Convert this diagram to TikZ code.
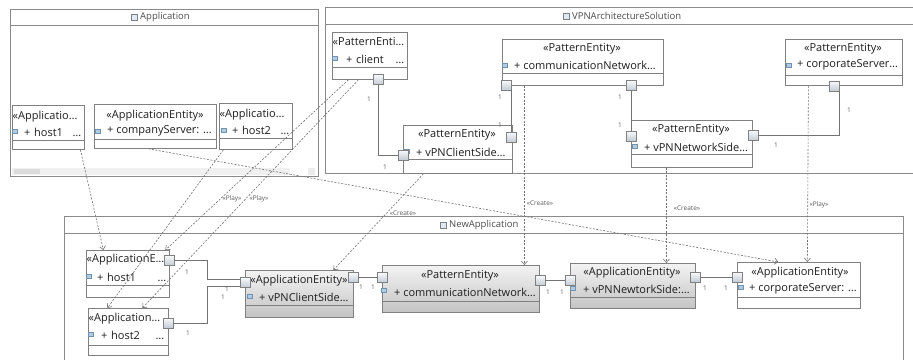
\documentclass[tikz,border=0pt]{standalone}
\usepackage{fontspec}
\setmainfont{Open Sans}
\usetikzlibrary{arrows.meta}
\definecolor{pkgline}{HTML}{8A8A8A}
\definecolor{clsline}{HTML}{808080}
\definecolor{depline}{HTML}{707070}
\definecolor{porttop}{HTML}{F8FAFC}
\definecolor{portbot}{HTML}{C3CBD4}
\definecolor{iconblue}{HTML}{8DB6DA}
\definecolor{greytop}{HTML}{F3F3F3}
\definecolor{greybot}{HTML}{C4C4C4}
\definecolor{txtcol}{HTML}{1E1E1E}
\definecolor{lblcol}{HTML}{5A5A5A}

\begin{document}
\begin{tikzpicture}[x=1pt, y=-1pt,
  pkg/.style={draw=pkgline, line width=0.9pt, anchor=north west, inner sep=0pt},
  cls/.style={draw=clsline, fill=white, line width=0.8pt, anchor=north west, inner sep=0pt},
  shaded cls/.style={cls, top color=greytop, bottom color=greybot},
  port/.style={draw=clsline, line width=0.6pt, top color=porttop, bottom color=portbot, minimum size=10pt, inner sep=0pt},
  icon/.style={draw=iconblue!80!black, fill=iconblue!70, minimum width=5pt, minimum height=3.5pt, inner sep=0pt},
  pkgicon/.style={draw=gray, fill=iconblue!30, minimum size=6pt, inner sep=0pt},
  clstext/.style={text=txtcol, font=\fontsize{11}{12}\selectfont, inner sep=0pt},
  titletext/.style={text=txtcol!80, font=\fontsize{9.5}{11}\selectfont, inner sep=0pt},
  multtext/.style={text=lblcol, font=\fontsize{6.5}{7}\selectfont, inner sep=0pt},
  deptext/.style={text=lblcol, font=\fontsize{6.5}{7}\selectfont, inner sep=0pt},
  assoc/.style={draw=clsline!90!black, line width=0.8pt},
  dep/.style={draw=depline, line width=0.6pt, dash pattern=on 2pt off 1.5pt, -{Straight Barb[length=3.5pt, width=6pt]}},
]
  \useasboundingbox (0,0) rectangle (913,359);

  \node[pkg, minimum width=308pt, minimum height=167pt] (app) at (10,9) {};
  \draw[pkg] (app.west |- 0,25) -- (app.east |- 0,25);
  \node[pkgicon] (appi) at (134,17) {};
  \node[titletext, anchor=west] (appt) at (140,17) {Application};
  \fill[gray!12] (12,168) rectangle (290,175);
  \fill[gray!28] (14,169) rectangle (40,174);
  \fill[gray!15] (308,168) rectangle (315,175);

  \node[pkg, minimum width=600pt, minimum height=166pt] (vpn) at (325,7) {};
  \draw[pkg] (vpn.west |- 0,24) -- (vpn.east |- 0,24);
  \node[pkgicon] (vpni) at (566,16) {};
  \node[titletext, anchor=west] (vpnt) at (572,16) {VPNArchitectureSolution};

  \node[pkg, minimum width=839pt, minimum height=160pt] (new) at (64,216) {};
  \draw[pkg] (new.west |- 0,233) -- (new.east |- 0,233);
  \node[pkgicon] (newi) at (443,225) {};
  \node[titletext, anchor=west] (newt) at (449,225) {NewApplication};

  \node[cls, minimum width=72pt, minimum height=44pt] (ah1) at (12,105) {};
  \draw[clsline] (ah1.west |- 0,140) -- (ah1.east |- 0,140);
  \node[clstext, anchor=west] (ah1s) at (12.5,117) {«Applicatio…};
  \node[icon] (ah1i) at (15,131) {};
  \node[clstext, anchor=west, text width=57pt] (ah1a) at (24,132) {+ host1\hfill…};

  \node[cls, minimum width=122pt, minimum height=44pt] (acs) at (94,104) {};
  \draw[clsline] (acs.west |- 0,139) -- (acs.east |- 0,139);
  \node[clstext] (acss) at (155,116) {«ApplicationEntity»};
  \node[icon] (acsi) at (98,131) {};
  \node[clstext, anchor=west] (acsa) at (107,131) {+ companyServer: …};

  \node[cls, minimum width=73pt, minimum height=46pt] (ah2) at (219,103) {};
  \draw[clsline] (ah2.west |- 0,138) -- (ah2.east |- 0,138);
  \node[clstext, anchor=west] (ah2s) at (219.5,115) {«Applicatio…};
  \node[icon] (ah2i) at (224,130) {};
  \node[clstext, anchor=west, text width=57pt] (ah2a) at (232,130) {+ host2\hfill…};

  \node[cls, minimum width=75pt, minimum height=47pt] (pcl) at (332,32) {};
  \draw[clsline] (pcl.west |- 0,67) -- (pcl.east |- 0,67);
  \node[clstext, anchor=west] (pcls) at (332.5,42) {«PatternEnti…};
  \node[icon] (pcli) at (335,58) {};
  \node[clstext, anchor=west, text width=58pt] (pcla) at (346,59) {+ client\hfill…};

  \node[cls, minimum width=161pt, minimum height=46pt] (pcn) at (502,39) {};
  \draw[clsline] (pcn.west |- 0,73) -- (pcn.east |- 0,73);
  \node[clstext] (pcns) at (582,49) {«PatternEntity»};
  \node[icon] (pcni) at (505,65) {};
  \node[clstext, anchor=west] (pcna) at (514,65) {+ communicationNetwork…};

  \node[cls, minimum width=109pt, minimum height=48pt] (pvc) at (403,125) {};
  \draw[clsline] (pvc.west |- 0,159) -- (pvc.east |- 0,159);
  \node[clstext] (pvcs) at (457,135) {«PatternEntity»};
  \node[icon] (pvci) at (407,151) {};
  \node[clstext, anchor=west] (pvca) at (416,152) {+ vPNClientSide…};

  \node[cls, minimum width=121pt, minimum height=47pt] (pvn) at (631,120) {};
  \draw[clsline] (pvn.west |- 0,154) -- (pvn.east |- 0,154);
  \node[clstext] (pvns) at (691,130) {«PatternEntity»};
  \node[icon] (pvni) at (635,146) {};
  \node[clstext, anchor=west] (pvna) at (644,147) {+ vPNNetworkSide…};

  \node[cls, minimum width=117pt, minimum height=46pt] (pcs) at (785,39) {};
  \draw[clsline] (pcs.west |- 0,75) -- (pcs.east |- 0,75);
  \node[clstext] (pcss) at (843,49) {«PatternEntity»};
  \node[icon] (pcsi) at (789,65) {};
  \node[clstext, anchor=west] (pcsa) at (797,65) {+ corporateServer…};

  \node[cls, minimum width=83pt, minimum height=47pt] (nh1) at (86,250) {};
  \draw[clsline] (nh1.west |- 0,285) -- (nh1.east |- 0,285);
  \node[clstext, anchor=west] (nh1s) at (86.5,260) {«ApplicationE…};
  \node[icon] (nh1i) at (89,276) {};
  \node[clstext, anchor=west, text width=69pt] (nh1a) at (97,277) {+ host1\hfill…};

  \node[cls, minimum width=80pt, minimum height=47pt] (nh2) at (88,308) {};
  \draw[clsline] (nh2.west |- 0,345) -- (nh2.east |- 0,345);
  \node[clstext, anchor=west] (nh2s) at (88.5,319) {«Application…};
  \node[icon] (nh2i) at (91,334) {};
  \node[clstext, anchor=west, text width=63pt] (nh2a) at (101,335) {+ host2\hfill…};

  \node[shaded cls, minimum width=108pt, minimum height=47pt] (nvc) at (245,270) {};
  \draw[clsline] (nvc.west |- 0,305) -- (nvc.east |- 0,305);
  \node[clstext] (nvcs) at (299,281) {«ApplicationEntity»};
  \node[icon] (nvci) at (250,296) {};
  \node[clstext, anchor=west] (nvca) at (259,297) {+ vPNClientSide…};

  \node[shaded cls, minimum width=157pt, minimum height=47pt] (ncn) at (382,265) {};
  \draw[clsline] (ncn.west |- 0,301) -- (ncn.east |- 0,301);
  \node[clstext] (ncns) at (460,276) {«PatternEntity»};
  \node[icon] (ncni) at (384,290) {};
  \node[clstext, anchor=west] (ncna) at (394,292) {+ communicationNetwork…};

  \node[shaded cls, minimum width=125pt, minimum height=45pt] (nvn) at (570,263) {};
  \draw[clsline] (nvn.west |- 0,297) -- (nvn.east |- 0,297);
  \node[clstext] (nvns) at (632,273) {«ApplicationEntity»};
  \node[icon] (nvni) at (573,288) {};
  \node[clstext, anchor=west] (nvna) at (583,289) {+ vPNNewtorkSide:…};

  \node[cls, minimum width=123pt, minimum height=46pt] (ncs) at (737,262) {};
  \draw[clsline] (ncs.west |- 0,297) -- (ncs.east |- 0,297);
  \node[clstext] (ncss) at (800,273) {«ApplicationEntity»};
  \node[icon] (ncsi) at (741,287) {};
  \node[clstext, anchor=west] (ncsa) at (749,289) {+ corporateServer: …};

  \node[port] (pclP) at (378,79.5) {};
  \node[port] (pvcL) at (403,155) {};
  \node[port] (pcnL) at (506,85) {};
  \node[port] (pvcR) at (511.5,137) {};
  \node[port] (pcnR) at (631,85.5) {};
  \node[port] (pvnL) at (631,136) {};
  \node[port] (pvnR) at (753,135.5) {};
  \node[port] (pcsP) at (834,86) {};
  \node[port] (nh1R) at (169,260.5) {};
  \node[port] (nh2R) at (168,323) {};
  \node[port] (nvcL) at (245,282.5) {};
  \node[port] (nvcR) at (353,277.5) {};
  \node[port] (ncnL) at (382,277.5) {};
  \node[port] (ncnR) at (540,280.5) {};
  \node[port] (nvnL) at (570,280.5) {};
  \node[port] (nvnR) at (695,277) {};
  \node[port] (ncsL) at (737,277) {};

  \draw[assoc] (pclP) |- (pvcL);
  \draw[assoc] (pvcR.north) -- (pvcR.north |- pcnL.south);
  \draw[assoc] (pcnR) -- (pvnL);
  \draw[assoc] (pvnR) -| (pcsP.south east);
  \draw[assoc] (nh1R) -- ++(38,0) |- ([yshift=3pt]nvcL.west);
  \draw[assoc] (nh2R) -- ++(39,0) |- ([yshift=-3.5pt]nvcL.west);
  \draw[assoc] (nvcR) -- (ncnL);
  \draw[assoc] (ncnR) -- (nvnL);
  \draw[assoc] (nvnR) -- (ncsL);

  \node[multtext] (m1) at (369,99) {1};
  \node[multtext] (m2) at (385,167) {1};
  \node[multtext] (m3) at (500,97) {1};
  \node[multtext] (m4) at (500,125) {1};
  \node[multtext] (m5) at (620,97) {1};
  \node[multtext] (m6) at (620,125) {1};
  \node[multtext] (m7) at (776,145) {1};
  \node[multtext] (m8) at (849,110) {1};
  \node[multtext] (m9) at (187,272) {1};
  \node[multtext] (m10) at (188,333) {1};
  \node[multtext] (m11) at (227,289) {1};
  \node[multtext] (m12) at (223,297) {1};
  \node[multtext] (m13) at (361,287) {1};
  \node[multtext] (m14) at (373,287) {1};
  \node[multtext] (m15) at (548,292) {1};
  \node[multtext] (m16) at (562,292) {1};
  \node[multtext] (m17) at (705,288) {1};
  \node[multtext] (m18) at (726,288) {1};

  \draw[dep] ([xshift=32pt]ah1.south) -- ([xshift=-24.5pt]nh1.north);
  \draw[dep] ([xshift=-32.5pt]ah2.south) -- ([xshift=-21pt]nh2.north);
  \draw[dep] ([xshift=-21.5pt]pcl.south) -- ([xshift=37.5pt]nh1.north);
  \draw[dep] ([xshift=-11.5pt]pcl.south) -- ([xshift=14pt]nh2.north);
  \draw[dep] ([xshift=-7pt]acs.south) -- ([xshift=-20.5pt]ncs.north);
  \draw[dep] ([xshift=-34.5pt]pvc.south) -- ([xshift=34pt]nvc.north);
  \draw[dep] ([xshift=-58.5pt]pcn.south) -- ([xshift=63.5pt]ncn.north);
  \draw[dep] ([xshift=-25.5pt]pvn.south) -- ([xshift=33.5pt]nvn.north);
  \draw[dep] ([xshift=-35.5pt]pcs.south) -- ([xshift=8.5pt]ncs.north);

  \node[deptext] (pl1) at (232,199) {«Play»};
  \node[deptext] (pl2) at (259,199) {«Play»};
  \node[deptext] (cr1) at (403,213) {«Create»};
  \node[deptext] (cr2) at (540,203) {«Create»};
  \node[deptext] (cr3) at (687,208) {«Create»};
  \node[deptext] (pl3) at (819,205) {«Play»};
\end{tikzpicture}
\end{document}
